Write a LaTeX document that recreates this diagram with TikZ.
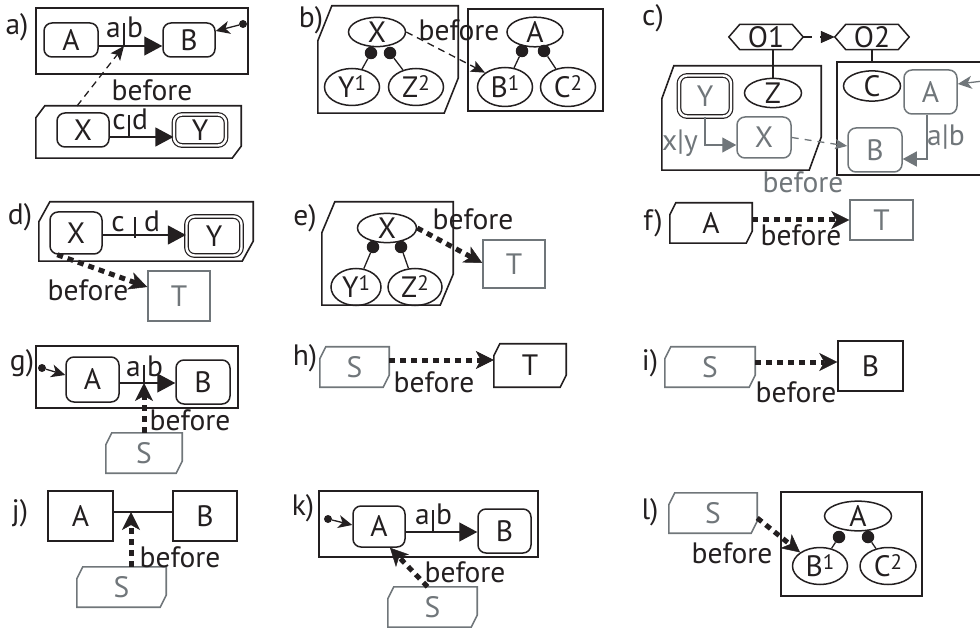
\documentclass[tikz,border=0pt]{standalone}
\usepackage{fontspec}
\setmainfont{PT Sans}
\usetikzlibrary{arrows.meta,shapes.geometric}
\definecolor{ink}{RGB}{35,31,32}
\definecolor{gr}{RGB}{112,118,122}

% small raised index after a state name
\newcommand{\sups}[1]{\raisebox{7pt}{\fontsize{21}{21}\selectfont #1}}
% outline with the top-left and bottom-right corners cut off
\newcommand{\chamf}[4][ink]{%
  \draw[draw=#1, line width=1.6pt, line join=miter]
    ([xshift=#3]#2.north west) -- (#2.north east) -- ([yshift=#4]#2.south east)
    -- ([xshift=-#3]#2.south east) -- (#2.south west) -- ([yshift=-#4]#2.north west) -- cycle;}
% hexagon pointed to the left and right around a node
\newcommand{\hexout}[2]{%
  \draw[draw=ink, line width=1.5pt, line join=miter]
    (#1.north west) -- (#1.north east) -- ([xshift=#2]#1.east) -- (#1.south east)
    -- (#1.south west) -- ([xshift=-#2]#1.west) -- cycle;}

\tikzset{
  lbl/.style={font=\fontsize{29.5}{31}\selectfont, text=ink, inner sep=0pt},
  rbox/.style={lbl, draw=ink, line width=1.5pt, rounded corners=8pt},
  grbox/.style={lbl, draw=gr, text=gr, line width=1.5pt, rounded corners=8pt},
  sq/.style={lbl, draw=ink, line width=1.5pt},
  gsq/.style={lbl, draw=gr, text=gr, line width=1.5pt},
  frame/.style={draw=ink, line width=1.6pt, inner sep=0pt},
  hold/.style={lbl, draw=none},
  ghold/.style={lbl, draw=none, text=gr},
  ell/.style={lbl, ellipse, draw=ink, line width=1.5pt},
  dbl/.style={lbl, draw=ink, double=white, double distance=2.4pt, line width=1.2pt, rounded corners=8pt},
  dot/.style={circle, fill=ink, inner sep=0pt, minimum size=12.5pt},
  idot/.style={circle, fill=ink, inner sep=0pt, minimum size=8pt},
  gdot/.style={circle, fill=gr, inner sep=0pt, minimum size=8pt},
  link/.style={draw=ink, line width=1.3pt},
  tick/.style={draw=ink, line width=1.3pt},
  trans/.style={draw=ink, line width=1.3pt, -{Triangle[length=18pt,width=19pt]}},
  gtrans/.style={draw=gr, line width=1.3pt, -{Triangle[length=14pt,width=15pt]}},
  init/.style={draw=ink, line width=1.3pt, -{Stealth[length=14pt,width=13pt,inset=4pt]}},
  ginit/.style={draw=gr, line width=1.3pt, -{Stealth[length=14pt,width=13pt,inset=4pt]}},
  thindash/.style={draw=ink, line width=1.3pt, dash pattern=on 7pt off 5pt, -{Stealth[length=14pt,width=12pt,inset=3pt]}},
  gdash/.style={draw=gr, line width=1.3pt, dash pattern=on 7pt off 6pt, -{Stealth[length=12pt,width=10pt,inset=2pt]}},
  odash/.style={draw=ink, line width=1.3pt, dash pattern=on 9pt off 8pt, -{Triangle[length=14pt,width=12pt]}},
  thickdash/.style={draw=ink, line width=5pt, dash pattern=on 6pt off 5pt, -{Stealth[length=18pt,width=18pt,inset=5pt,line width=0.5pt]}},
}

\begin{document}
\begin{tikzpicture}[x=1pt,y=-1pt]
\useasboundingbox (0,0) rectangle (980,628);
\clip (0,0) rectangle (980,628);

% ---------- a) ----------
\node[lbl] (la) at (17,27) {a)};
\node[frame, minimum width=212pt, minimum height=66pt] (aTop) at (142,41) {};
\node[rbox, minimum width=54pt, minimum height=34pt] (aA) at (71,40) {A};
\node[rbox, minimum width=52pt, minimum height=34pt] (aB) at (189,40) {B};
\coordinate (aBar) at (124,46);
\draw[trans] (aA.east |- aBar) -- (aB.west |- aBar);
\draw[tick] (aBar) -- ++(0,-23);
\node[lbl, anchor=base east] (aLa) at (121,38) {a};
\node[lbl, anchor=base west] (aLb) at (127,38) {b};
\node[idot] (aDot) at (243,24) {};
\draw[init] (aDot) -- ([yshift=9pt]aB.east);
\node[hold, minimum width=205pt, minimum height=52pt] (aBot) at (138.5,132) {};
\chamf{aBot}{9pt}{12pt}
\node[rbox, minimum width=52pt, minimum height=34pt] (aX) at (83,130) {X};
\node[dbl, minimum width=52pt, minimum height=31pt] (aY) at (200,130) {Y};
\coordinate (aBar2) at (129,137);
\draw[trans] (aX.east |- aBar2) -- (aY.west |- aBar2);
\draw[tick] (aBar2) -- ++(0,-22);
\node[lbl, anchor=base east] (aLc) at (126,130) {c};
\node[lbl, anchor=base west] (aLd) at (132,130) {d};
\coordinate (aS) at (77,106);
\draw[thindash] (aS) -- (aBar);
\node[lbl] (aBef) at (152,90) {before};

% ---------- b) ----------
\node[lbl] (lb) at (311,20) {b)};
\node[hold, minimum width=140pt, minimum height=107pt] (bL) at (388,59.5) {};
\chamf{bL}{14pt}{35pt}
\node[ell, minimum width=57pt, minimum height=27pt] (bX) at (377,32) {X};
\node[dot] (bd1) at (371,53) {};
\node[dot] (bd2) at (390,53) {};
\node[ell, minimum width=55pt, minimum height=37pt] (bY) at (352,87) {Y\sups{1}};
\node[ell, minimum width=55pt, minimum height=37pt] (bZ) at (416,87) {Z\sups{2}};
\draw[link] (bd1) -- (bY);
\draw[link] (bd2) -- (bZ);
\node[frame, minimum width=135pt, minimum height=102pt] (bR) at (535.5,60) {};
\node[ell, minimum width=56pt, minimum height=29pt] (bA) at (535,32) {A};
\node[dot] (bd3) at (522,51) {};
\node[dot] (bd4) at (544,51) {};
\node[ell, minimum width=55pt, minimum height=39pt] (bB) at (505,87) {B\sups{1}};
\node[ell, minimum width=55pt, minimum height=39pt] (bC) at (568,87) {C\sups{2}};
\draw[link] (bd3) -- (bB);
\draw[link] (bd4) -- (bC);
\draw[thindash] (bX.east) -- (bB.north west);
\node[lbl] (bBef) at (459,30) {before};

% ---------- c) ----------
\node[lbl] (lc) at (653,18) {c)};
\node[hold, minimum width=52pt, minimum height=25pt] (cO1) at (766,37) {O1};
\hexout{cO1}{11pt}
\node[hold, minimum width=52pt, minimum height=25pt] (cO2) at (872,37) {O2};
\hexout{cO2}{11pt}
\draw[odash] ([xshift=11pt]cO1.east) -- ([xshift=-11pt]cO2.west);
\node[hold, minimum width=159pt, minimum height=104pt] (cL) at (741.5,118) {};
\chamf{cL}{12pt}{33pt}
\node[dbl, text=gr, minimum width=52pt, minimum height=41pt] (cY) at (705,96) {Y};
\node[ell, minimum width=57pt, minimum height=27pt] (cZ) at (773,93) {Z};
\draw[link] (cZ.north) -- (cZ.north |- cO1.south);
\node[grbox, minimum width=54pt, minimum height=41pt] (cX) at (764,137.5) {X};
\draw[gtrans] (cY.south) |- ([yshift=-7.5pt]cX.west);
\node[lbl, text=gr] (cxy) at (680,143) {x|y};
\node[frame, minimum width=163pt, minimum height=113pt] (cR) at (918.5,118.5) {};
\node[ell, minimum width=57pt, minimum height=28pt] (cC) at (872,86) {C};
\draw[link] (cC.north |- cO2.south) -- (cC.north |- cR.north);
\node[grbox, minimum width=53pt, minimum height=44pt] (cA) at (930.5,92) {A};
\node[gdot] (cDot) at (992,80) {};
\draw[ginit] (cDot) -- ([yshift=8pt]cA.east);
\node[grbox, minimum width=54pt, minimum height=44pt] (cB) at (875,150) {B};
\draw[gtrans] ([xshift=-3.5pt]cA.south) |- ([yshift=-9pt]cB.east);
\node[lbl, text=gr] (cab) at (946,137) {a|b};
\draw[gdash] (cX.east) -- ([yshift=4pt]cB.west);
\node[lbl, text=gr] (cBef) at (803,182) {before};

% ---------- d) ----------
\node[lbl] (ld) at (20,217) {d)};
\node[hold, minimum width=214pt, minimum height=59pt] (dP) at (146,231.5) {};
\chamf{dP}{11pt}{20pt}
\node[rbox, minimum width=52pt, minimum height=42pt] (dX) at (76,233) {X};
\node[dbl, minimum width=55pt, minimum height=39pt] (dY) at (214,236) {Y};
\coordinate (dBar) at (135,235);
\draw[trans] (dX.east |- dBar) -- (dY.west |- dBar);
\draw[tick] ([yshift=-3pt]dBar) -- ++(0,-21);
\node[lbl, anchor=base east] (dLc) at (125,232) {c};
\node[lbl, anchor=base west] (dLd) at (144,232) {d};
\node[gsq, minimum width=62pt, minimum height=50pt] (dT) at (179,296) {T};
\draw[thickdash] ([xshift=8pt]dX.south west) -- ([yshift=9pt]dT.west);
\node[lbl] (dBef) at (88,290) {before};

% ---------- e) ----------
\node[lbl] (le) at (305,218) {e)};
\node[hold, minimum width=131pt, minimum height=103pt] (eP) at (387.5,253.5) {};
\chamf{eP}{13pt}{31pt}
\node[ell, minimum width=59pt, minimum height=26pt] (eX) at (387,228) {X};
\node[dot] (ed1) at (373,247) {};
\node[dot] (ed2) at (401,247) {};
\node[ell, minimum width=50pt, minimum height=37pt] (eY) at (356,287) {Y\sups{1}};
\node[ell, minimum width=54pt, minimum height=37pt] (eZ) at (415,287) {Z\sups{2}};
\draw[link] (ed1) -- (eY);
\draw[link] (ed2) -- (eZ);
\node[gsq, minimum width=62pt, minimum height=48pt] (eT) at (514,264) {T};
\draw[thickdash] (eX.east) -- ([yshift=1pt]eT.west);
\node[lbl] (eBef) at (473,219) {before};

% ---------- f) ----------
\node[lbl] (lf) at (653,223) {f)};
\node[hold, minimum width=82pt, minimum height=40pt] (fA) at (711,223) {A};
\chamf{fA}{6pt}{12pt}
\node[gsq, minimum width=63pt, minimum height=40pt] (fT) at (881.5,220) {T};
\draw[thickdash] ([yshift=3pt]fA.east) -- (fT.west);
\node[lbl] (fBef) at (801,235) {before};

% ---------- g) ----------
\node[lbl] (lg) at (22,363) {g)};
\node[frame, minimum width=202pt, minimum height=62pt] (gF) at (137,377) {};
\node[rbox, minimum width=53pt, minimum height=45pt] (gA) at (92.5,379.5) {A};
\node[rbox, minimum width=54pt, minimum height=44pt] (gB) at (203,382) {B};
\coordinate (gBar) at (144,383);
\draw[trans] (gA.east |- gBar) -- (gB.west |- gBar);
\draw[tick] (gBar) -- ++(0,-18);
\node[lbl, anchor=base east] (gLa) at (141,376) {a};
\node[lbl, anchor=base west] (gLb) at (147,376) {b};
\node[idot] (gDot) at (42,368) {};
\draw[init] (gDot) -- ([yshift=4.5pt]gA.west);
\node[ghold, minimum width=76pt, minimum height=40pt] (gS) at (144,453) {S};
\chamf[gr]{gS}{6pt}{12pt}
\draw[thickdash] (gS.north) -- (gBar);
\node[lbl] (gBef) at (190,420) {before};

% ---------- h) ----------
\node[lbl] (lh) at (305,358) {h)};
\node[ghold, minimum width=69pt, minimum height=40pt] (hS) at (354.5,367) {S};
\chamf[gr]{hS}{6pt}{12pt}
\node[hold, minimum width=72pt, minimum height=43pt] (hT) at (530,365.5) {T};
\chamf{hT}{6pt}{12pt}
\draw[thickdash] ([yshift=7pt]hS.east) -- ([yshift=7pt]hS.east -| hT.west);
\node[lbl] (hBef) at (434,382) {before};

% ---------- i) ----------
\node[lbl] (li) at (650,363) {i)};
\node[ghold, minimum width=90pt, minimum height=40pt] (iS) at (710,367) {S};
\chamf[gr]{iS}{6pt}{12pt}
\node[sq, minimum width=65pt, minimum height=50pt] (iB) at (870.5,366) {B};
\draw[thickdash] ([yshift=5pt]iS.east) -- ([yshift=5pt]iS.east -| iB.west);
\node[lbl] (iBef) at (796,392) {before};

% ---------- j) ----------
\node[lbl] (lj) at (20,513) {j)};
\node[sq, minimum width=65pt, minimum height=50pt] (jA) at (80.5,516) {A};
\node[sq, minimum width=64pt, minimum height=50pt] (jB) at (205,516) {B};
\draw[link] ([yshift=4pt]jA.east) -- ([yshift=4pt]jB.west);
\coordinate (jBar) at (131,512);
\node[ghold, minimum width=89pt, minimum height=40pt] (jS) at (121.5,587) {S};
\chamf[gr]{jS}{6pt}{12pt}
\draw[thickdash] (jS.north -| jBar) -- (jBar);
\node[lbl] (jBef) at (180,557) {before};

% ---------- k) ----------
\node[lbl] (lk) at (303,508) {k)};
\node[frame, minimum width=219pt, minimum height=66pt] (kF) at (428.5,524) {};
\node[rbox, minimum width=52pt, minimum height=41pt] (kA) at (379,526.5) {A};
\node[rbox, minimum width=53pt, minimum height=44pt] (kB) at (504.5,531) {B};
\coordinate (kBar) at (433,532);
\draw[trans] (kA.east |- kBar) -- (kB.west |- kBar);
\draw[tick] (kBar) -- ++(0,-22);
\node[lbl, anchor=base east] (kLa) at (430,524) {a};
\node[lbl, anchor=base west] (kLb) at (436,524) {b};
\node[idot] (kDot) at (328,519) {};
\draw[init] (kDot) -- ([yshift=1.5pt]kA.west);
\node[ghold, minimum width=89pt, minimum height=40pt] (kS) at (432.5,607) {S};
\chamf[gr]{kS}{6pt}{12pt}
\draw[thickdash] ([xshift=-5pt]kS.north) -- ([xshift=11pt]kA.south);
\node[lbl] (kBef) at (465,572) {before};

% ---------- l) ----------
\node[lbl] (ll) at (650,512) {l)};
\node[ghold, minimum width=88pt, minimum height=40pt] (lS) at (713,513) {S};
\chamf[gr]{lS}{6pt}{12pt}
\node[frame, minimum width=141pt, minimum height=104pt] (lF) at (851.5,544) {};
\node[ell, minimum width=67pt, minimum height=28pt] (lA) at (858,516) {A};
\node[dot] (ld1) at (839,537) {};
\node[dot] (ld2) at (868,537) {};
\node[ell, minimum width=55pt, minimum height=37pt] (lB) at (820,566) {B\sups{1}};
\node[ell, minimum width=56pt, minimum height=37pt] (lC) at (888,566) {C\sups{2}};
\draw[link] (ld1) -- (lB);
\draw[link] (ld2) -- (lC);
\draw[thickdash] ([yshift=-5pt]lS.east) -- (lB.north west);
\node[lbl] (lBef) at (732,553) {before};
\end{tikzpicture}
\end{document}
